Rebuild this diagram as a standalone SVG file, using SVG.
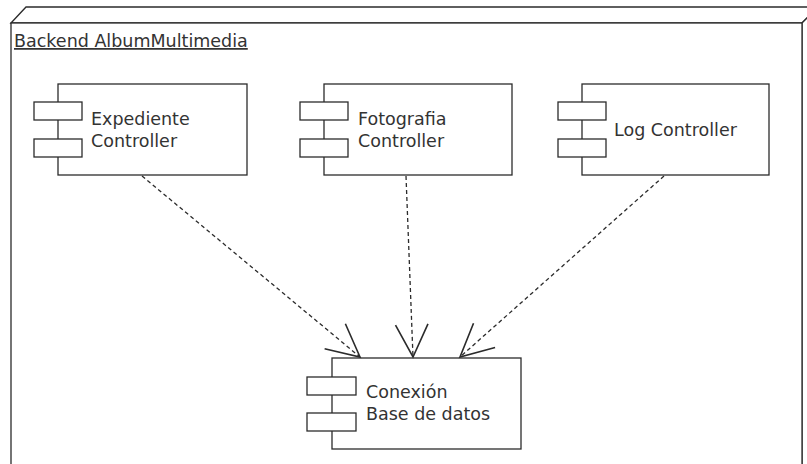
<svg xmlns="http://www.w3.org/2000/svg" width="807" height="464" viewBox="0 0 807 464">
  <defs>
    <style>
      .shape { fill: #ffffff; stroke: #2b2b2b; stroke-width: 1.3; }
      .label { font-family: "DejaVu Sans", Verdana, sans-serif; font-size: 17.5px; fill: #333333; }
      .title { font-family: "DejaVu Sans", Verdana, sans-serif; font-size: 17.5px; fill: #333333; text-decoration: underline; }
      .dep { fill: none; stroke: #2b2b2b; stroke-width: 1.3; stroke-dasharray: 4 3; marker-end: url(#open); }
    </style>
    <marker id="open" markerUnits="userSpaceOnUse" markerWidth="40" markerHeight="40" viewBox="-30 -16 32 32" refX="0" refY="0" orient="auto" overflow="visible">
      <path d="M-26,-13 L0,0 L-26,13" fill="none" stroke="#2b2b2b" stroke-width="1.3" stroke-dasharray="none"/>
    </marker>
  </defs>
  <rect x="0" y="0" width="807" height="464" fill="#ffffff"/>

  <g id="node-backend">
    <polygon class="shape" points="11,23 26,7 818,7 802,23"/>
    <polygon class="shape" points="802,23 818,7 818,470 802,486"/>
    <rect class="shape" x="11" y="23" width="791" height="460"/>
    <text class="title" x="14" y="47">Backend AlbumMultimedia</text>
  </g>

  <g id="comp-expediente">
    <rect class="shape" x="58" y="84" width="189" height="91"/>
    <rect class="shape" x="34" y="102" width="48" height="18"/>
    <rect class="shape" x="34" y="139" width="48" height="18"/>
    <text class="label" x="91" y="125">Expediente</text>
    <text class="label" x="91" y="147">Controller</text>
  </g>

  <g id="comp-fotografia">
    <rect class="shape" x="324" y="84" width="188" height="91"/>
    <rect class="shape" x="300" y="102" width="48" height="18"/>
    <rect class="shape" x="300" y="139" width="48" height="18"/>
    <text class="label" x="358" y="125">Fotografia</text>
    <text class="label" x="358" y="147">Controller</text>
  </g>

  <g id="comp-log">
    <rect class="shape" x="582" y="84" width="187" height="91"/>
    <rect class="shape" x="558" y="102" width="48" height="18"/>
    <rect class="shape" x="558" y="139" width="48" height="18"/>
    <text class="label" x="614" y="136">Log Controller</text>
  </g>

  <g id="comp-conexion">
    <rect class="shape" x="332" y="358" width="189" height="91"/>
    <rect class="shape" x="307" y="377" width="49" height="18"/>
    <rect class="shape" x="307" y="413" width="49" height="18"/>
    <text class="label" x="366" y="398">Conexión</text>
    <text class="label" x="366" y="420">Base de datos</text>
  </g>

  <g id="connectors">
    <line class="dep" x1="142" y1="176" x2="360" y2="357"/>
    <line class="dep" x1="406" y1="176" x2="413" y2="357"/>
    <line class="dep" x1="664" y1="176" x2="460" y2="357"/>
  </g>
</svg>
